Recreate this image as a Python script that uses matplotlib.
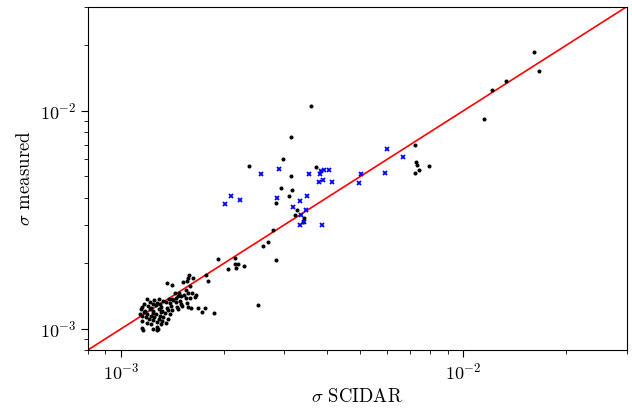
import matplotlib
matplotlib.use("Agg")
import matplotlib.pyplot as plt
from matplotlib.ticker import NullFormatter
import numpy as np

plt.rcParams['mathtext.fontset'] = 'cm'
plt.rcParams['font.family'] = ['cmr10', 'DejaVu Serif']
plt.rcParams['axes.formatter.use_mathtext'] = True

# values in units of 1e-3
# dense group of low-sigma nights
cluster_x = [1.576, 1.573, 1.621, 1.561, 1.518, 1.360, 1.408, 1.587, 1.550, 1.656,
             1.617, 1.573, 1.532, 1.496, 1.462, 1.439, 1.479, 1.587, 1.644, 1.550,
             1.452, 1.411, 1.776, 1.793, 1.871, 1.727, 1.764, 1.683,
             1.190, 1.250, 1.292, 1.325, 1.384, 1.421, 1.486,
             1.166, 1.218, 1.236, 1.275, 1.296, 1.352, 1.390, 1.449, 1.492, 1.556,
             1.152, 1.197, 1.221, 1.268, 1.305, 1.358, 1.398, 1.458, 1.508, 1.574, 1.600,
             1.147, 1.172, 1.216, 1.244, 1.290, 1.318, 1.371, 1.406, 1.467,
             1.135, 1.169, 1.193, 1.240, 1.265, 1.311, 1.341, 1.390,
             1.148, 1.180, 1.226, 1.251, 1.299, 1.327,
             1.152, 1.203, 1.236, 1.290, 1.318, 1.368,
             1.188, 1.222, 1.275, 1.305, 1.350,
             1.151, 1.244, 1.274, 1.282,
             1.160, 1.276]
cluster_y = [1.769, 1.708, 1.720, 1.649, 1.643, 1.626, 1.586, 1.575, 1.509, 1.437,
             1.457, 1.468, 1.432, 1.422, 1.417, 1.457, 1.457, 1.392, 1.407, 1.392,
             1.392, 1.368, 1.769, 1.654, 1.188, 1.197, 1.240, 1.240,
             1.372, 1.350, 1.365, 1.345, 1.370, 1.352, 1.340,
             1.300, 1.325, 1.305, 1.318, 1.296, 1.330, 1.308, 1.322, 1.300, 1.315,
             1.258, 1.275, 1.252, 1.280, 1.262, 1.250, 1.272, 1.255, 1.278, 1.260, 1.248,
             1.230, 1.214, 1.235, 1.210, 1.228, 1.205, 1.226, 1.216, 1.232,
             1.172, 1.190, 1.176, 1.186, 1.170, 1.192, 1.178, 1.168,
             1.146, 1.130, 1.150, 1.134, 1.144, 1.128,
             1.092, 1.108, 1.095, 1.112, 1.090, 1.104,
             1.068, 1.055, 1.070, 1.058, 1.066,
             1.012, 1.002, 1.015, 0.998,
             0.988, 0.993]

# remaining black points
other_x = [16.07, 16.6, 13.34, 12.11, 11.48, 3.59, 3.14, 2.97, 2.37, 3.72,
           3.14, 2.94, 3.16, 3.10, 2.84, 3.26, 3.23, 3.43, 3.40, 2.78,
           2.68, 2.60, 2.83, 1.92, 2.15, 2.15, 2.19, 2.17, 2.29, 2.06,
           2.52, 7.21, 7.28, 7.30, 7.20, 7.43, 7.95]
other_y = [18.54, 15.14, 13.65, 12.39, 9.16, 10.47, 7.55, 6.04, 5.61, 5.50,
           5.00, 4.42, 4.32, 4.08, 3.76, 3.50, 3.33, 3.24, 3.10, 2.83,
           2.49, 2.39, 2.06, 2.09, 2.11, 1.99, 1.98, 1.90, 1.95, 1.88,
           1.28, 6.99, 5.84, 5.63, 5.21, 5.35, 5.57]

# blue crosses
blue_x = [6.00, 6.64, 5.92, 5.02, 4.94, 4.14, 4.04, 3.92, 3.85, 3.80,
          3.88, 3.79, 3.53, 2.89, 2.57, 2.85, 3.50, 3.33, 3.18, 3.48,
          3.36, 3.43, 3.33, 3.86, 2.09, 2.23, 2.01]
blue_y = [6.71, 6.12, 5.16, 5.14, 4.68, 4.69, 5.35, 5.35, 5.31, 5.14,
          4.84, 4.71, 5.14, 5.38, 5.11, 3.99, 4.08, 3.84, 3.61, 3.52,
          3.34, 3.10, 3.00, 2.99, 4.08, 3.91, 3.74]

lims = [8e-4, 3e-2]

black_x = np.array(cluster_x + other_x) * 1e-3
black_y = np.array(cluster_y + other_y) * 1e-3

fig = plt.figure(figsize=(6.32, 4.11), dpi=100)
ax = fig.add_axes([0.139, 0.1484, 0.8527, 0.8353])

ax.plot(lims, lims, color='red', lw=1.2, zorder=1)
ax.plot(black_x, black_y, 'o', color='black', ms=2.9, mew=0, zorder=2)
ax.plot(np.array(blue_x) * 1e-3, np.array(blue_y) * 1e-3, 'x', color='blue',
        ms=3.2, mew=1.3, zorder=3)

ax.set_xscale('log')
ax.set_yscale('log')
ax.set_xlim(lims)
ax.set_ylim(lims)
ax.xaxis.set_minor_formatter(NullFormatter())
ax.yaxis.set_minor_formatter(NullFormatter())
ax.tick_params(which='both', direction='out', labelsize=13)
ax.tick_params(which='major', length=5)
ax.tick_params(which='minor', length=3)

ax.set_xlabel(r'$\sigma$ SCIDAR', fontsize=13.5)
ax.set_ylabel(r'$\sigma$ measured', fontsize=13.5)

fig.savefig('out.png', dpi=100)
